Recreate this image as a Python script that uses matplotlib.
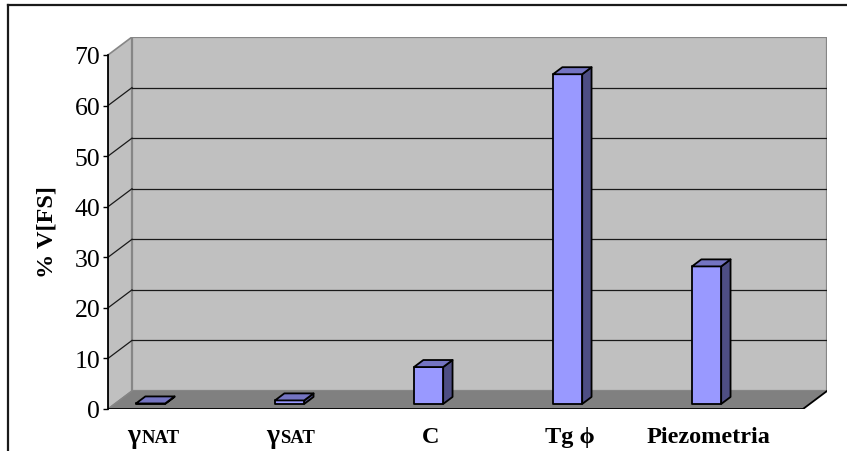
import matplotlib
matplotlib.use("Agg")
import matplotlib.pyplot as plt
from matplotlib.patches import Polygon
from matplotlib.lines import Line2D

# ---- data ----
categories = ["γ|NAT", "γ|SAT", "C", "Tg ϕ", "Piezometria"]
values = [0.1, 0.7, 7.3, 65.2, 27.2]
yticks = [0, 10, 20, 30, 40, 50, 60, 70]
ylabel = "% V[FS]"

# ---- style ----
SERIF = ["Liberation Serif", "DejaVu Serif"]
WALL = "#C0C0C0"
FLOOR = "#808080"
EDGE_GRAY = "#868686"
BAR_FRONT = "#9999FF"
BAR_TOP = "#7474C2"
BAR_SIDE = "#4E4E84"

W, H = 847, 452
fig = plt.figure(figsize=(W / 100, H / 100), dpi=100)
fig.patch.set_facecolor("white")

# plot region in pixels (front-left corner of floor to back-right top of wall)
left_px, right_px, bottom_px, top_px = 108, 827, 410, 38
ax = fig.add_axes([left_px / W, (H - bottom_px) / H,
                   (right_px - left_px) / W, (bottom_px - top_px) / H])

n = len(categories)
vmax = 70
# 3-D depth offset expressed in data units
DX = 24 / ((right_px - left_px - 24) / n)
DY = 18 / ((bottom_px - top_px - 18) / vmax)
ax.set_xlim(0, n + DX)
ax.set_ylim(0, vmax + DY)
ax.set_facecolor("none")

# left wall, back wall, floor
ax.add_patch(Polygon([(0, 0), (DX, DY), (DX, vmax + DY), (0, vmax)],
                     closed=True, facecolor=WALL, edgecolor=EDGE_GRAY, lw=1.2, zorder=1))
ax.add_patch(Polygon([(DX, DY), (n + DX, DY), (n + DX, vmax + DY), (DX, vmax + DY)],
                     closed=True, facecolor=WALL, edgecolor=EDGE_GRAY, lw=1.6, zorder=1))

# gridlines on back and side walls
for t in yticks[1:-1]:
    ax.add_line(Line2D([DX, n + DX], [t + DY, t + DY], color="#1a1a1a", lw=0.9, zorder=2))
    ax.add_line(Line2D([0, DX], [t, t + DY], color="#1a1a1a", lw=0.9, zorder=2))

ax.add_patch(Polygon([(0, 0), (n, 0), (n + DX, DY), (DX, DY)],
                     closed=True, facecolor=FLOOR, edgecolor="none", zorder=3))
ax.add_line(Line2D([0, DX], [0, DY], color=EDGE_GRAY, lw=1.0, zorder=3))
ax.add_line(Line2D([0, n], [0, 0], color="black", lw=1.3, zorder=4))
ax.add_line(Line2D([n, n + DX], [0, DY], color="black", lw=1.3, zorder=4))

# 3-D bars
bar_off, bar_w = 0.153, 0.21
t1, t2 = 0.28, 0.67
for i, v in enumerate(values):
    xl = i + bar_off
    xr = xl + bar_w
    f = dict(closed=True, edgecolor="black", lw=1.3, joinstyle="round", zorder=5)
    front = [(xl + t1 * DX, t1 * DY), (xr + t1 * DX, t1 * DY),
             (xr + t1 * DX, v + t1 * DY), (xl + t1 * DX, v + t1 * DY)]
    side = [(xr + t1 * DX, t1 * DY), (xr + t2 * DX, t2 * DY),
            (xr + t2 * DX, v + t2 * DY), (xr + t1 * DX, v + t1 * DY)]
    top = [(xl + t1 * DX, v + t1 * DY), (xr + t1 * DX, v + t1 * DY),
           (xr + t2 * DX, v + t2 * DY), (xl + t2 * DX, v + t2 * DY)]
    ax.add_patch(Polygon(side, facecolor=BAR_SIDE, **f))
    ax.add_patch(Polygon(front, facecolor=BAR_FRONT, **f))
    ax.add_patch(Polygon(top, facecolor=BAR_TOP, **f))

# value axis
for s in ["top", "right", "bottom"]:
    ax.spines[s].set_visible(False)
ax.spines["left"].set_bounds(0, vmax)
ax.spines["left"].set_linewidth(1.3)
ax.spines["left"].set_zorder(6)
ax.set_yticks(yticks)
ax.set_yticklabels([str(t) for t in yticks], family=SERIF, fontsize=18.5)
ax.tick_params(axis="y", length=3.6, width=1.0, pad=2.0, direction="out")
ax.set_xticks([])

# category labels
base_off = -33 * 0.72
for i, lab in enumerate(categories):
    xc = i + 0.32
    if "|" in lab:
        main, sub = lab.split("|")
        ax.annotate(main, xy=(xc, 0), xycoords=("data", "axes fraction"),
                    xytext=(-12 * 0.72, base_off), textcoords="offset points",
                    ha="right", va="baseline", family=SERIF, weight="bold", fontsize=20)
        ax.annotate(sub, xy=(xc, 0), xycoords=("data", "axes fraction"),
                    xytext=(-11 * 0.72, base_off), textcoords="offset points",
                    ha="left", va="baseline", family=SERIF, weight="bold", fontsize=13.5)
    else:
        ax.annotate(lab, xy=(xc, 0), xycoords=("data", "axes fraction"),
                    xytext=(0, base_off), textcoords="offset points",
                    ha="center", va="baseline", family=SERIF, weight="bold", fontsize=17.5)

fig.text(47 / W, 1 - 232 / H, ylabel, rotation=90, ha="center", va="center",
         family=SERIF, weight="bold", fontsize=17.5)

# chart border (top and left edges)
fig.add_artist(Line2D([8 / W, 1], [1 - 6 / H, 1 - 6 / H], transform=fig.transFigure,
                      color="#1a1a1a", lw=1.6))
fig.add_artist(Line2D([8 / W, 8 / W], [0, 1 - 6 / H], transform=fig.transFigure,
                      color="#1a1a1a", lw=1.6))

fig.savefig("out.png", dpi=100)
